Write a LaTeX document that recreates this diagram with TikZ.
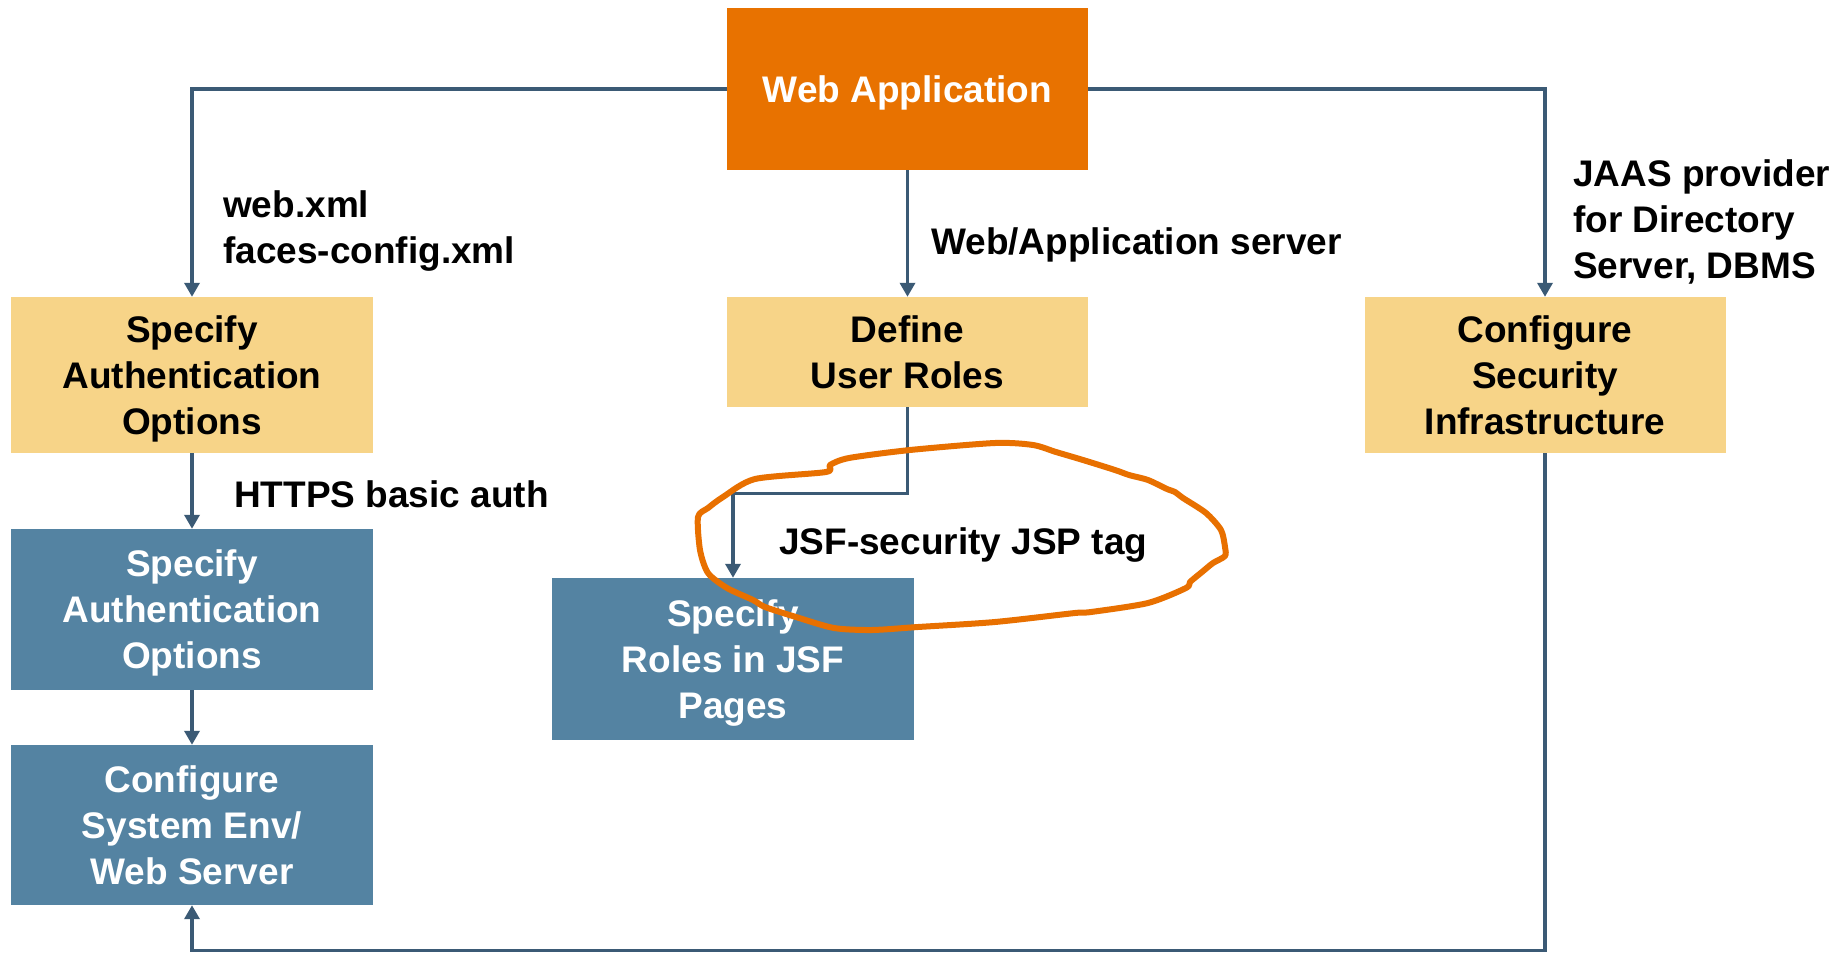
\documentclass[tikz,border=0pt]{standalone}
\usepackage{fontspec}
\setmainfont{Liberation Sans}
\usetikzlibrary{arrows.meta}
\definecolor{appOrange}{RGB}{232,114,0}
\definecolor{taskYellow}{RGB}{247,212,136}
\definecolor{taskBlue}{RGB}{84,131,162}
\definecolor{linkSlate}{RGB}{59,90,117}
\definecolor{markOrange}{RGB}{232,112,0}
\begin{document}
\begin{tikzpicture}[x=1pt,y=-1pt,
  box/.style={rectangle, inner sep=0pt, align=center, text depth=0pt,
              font=\bfseries\fontsize{37}{46}\selectfont},
  appbox/.style={box, fill=appOrange, text=white},
  yellowbox/.style={box, fill=taskYellow, text=black},
  bluebox/.style={box, fill=taskBlue, text=white},
  conn/.style={draw=linkSlate, line width=3.4pt, -{Triangle[width=15pt,length=14pt]}},
  note/.style={inner sep=0pt, align=left, font=\bfseries\fontsize{37}{46}\selectfont},
  scribble/.style={draw=markOrange, line width=6pt, line join=round, line cap=round}]

\useasboundingbox (0,0) rectangle (1839,953);
\fill[white] (0,0) rectangle (1839,953);

% boxes
\node[appbox, minimum width=361pt, minimum height=162pt] (web) at (907.5,89) {Web Application};
\node[yellowbox, minimum width=362pt, minimum height=156pt] (authspec) at (192,375) {Specify\\Authentication\\Options};
\node[yellowbox, minimum width=361pt, minimum height=110pt] (roles) at (907.5,352) {Define\\User Roles};
\node[yellowbox, minimum width=361pt, minimum height=156pt] (secinfra) at (1545,375) {Configure\\Security\\Infrastructure};
\node[bluebox, minimum width=362pt, minimum height=161pt] (authopt) at (192,609.5) {Specify\\Authentication\\Options};
\node[bluebox, minimum width=362pt, minimum height=160pt] (sysenv) at (192,825) {Configure\\System Env/\\Web Server};
\node[bluebox, minimum width=362pt, minimum height=162pt] (jsfpages) at (733,659) {Specify\\Roles in JSF\\Pages};

% labels
\node[note, anchor=west] (cfgfiles) at (223,231) {web.xml\\faces-config.xml};
\node[note, anchor=base west] (appserver) at (931,254) {Web/Application server};
\node[note, anchor=west] (jaas) at (1573,222) {JAAS provider\\for Directory\\Server, DBMS};
\node[note, anchor=base west] (https) at (234,507) {HTTPS basic auth};
\node[note, anchor=base west] (jsftag) at (779,554) {JSF-security JSP tag};

% connectors
\draw[conn] (web.west) -| (authspec.north);
\draw[conn] (web.east) -| (secinfra.north);
\draw[conn] (web.south) -- (roles.north);
\draw[conn] (roles.south) -- ++(0,86) -| (jsfpages.north);
\draw[conn] (authspec.south) -- (authopt.north);
\draw[conn] (authopt.south) -- (sysenv.north);
\draw[conn] (secinfra.south) -- ++(0,497) -| (sysenv.south);

% hand-drawn loop around the tag label
\draw[scribble] plot[smooth cycle, tension=0.45] coordinates {
  (755,479) (826,472) (830,465) (849,458) (910,450) (995,443) (1033,445)
  (1056,452) (1083,460) (1115,470) (1129,475) (1148,480) (1167,489)
  (1175,492) (1183,498) (1206,513) (1221,530) (1225,547) (1225,556)
  (1213,563) (1202,572) (1190,582) (1186,588) (1148,603) (1091,612)
  (1075,613) (995,622) (918,627) (872,630) (834,628) (796,617) (765,607)
  (753,600) (727,588) (708,573) (700,550) (698,517) (708,508) (723,497)};
\end{tikzpicture}
\end{document}
